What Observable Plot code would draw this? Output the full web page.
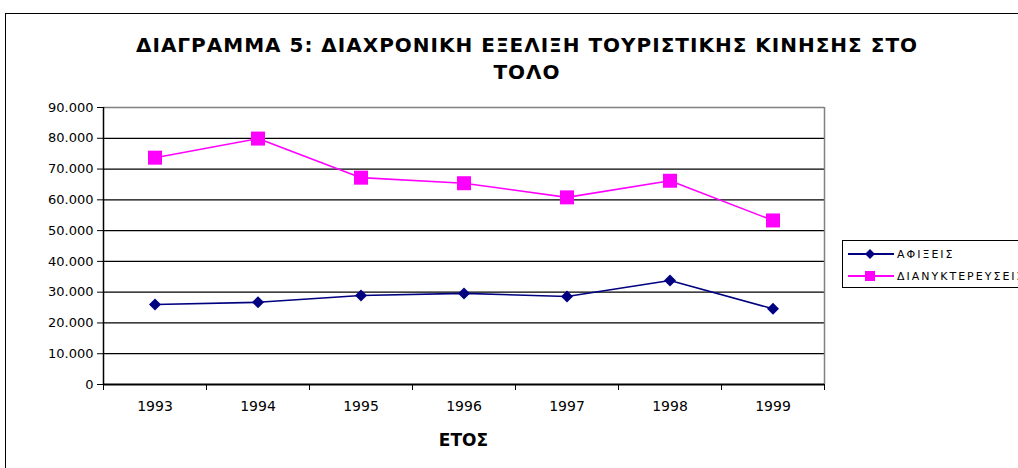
<!DOCTYPE html>
<html>
<head>
<meta charset="utf-8">
<script src="https://cdn.jsdelivr.net/npm/d3@7"></script>
<script src="https://cdn.jsdelivr.net/npm/@observablehq/plot@0.6"></script>
<style>
  html, body { margin: 0; padding: 0; background: #fff; overflow: hidden; }
  #wrap { position: relative; width: 1018px; height: 468px; overflow: hidden; font-family: "DejaVu Sans", Verdana, sans-serif; }
  #frame { position: absolute; left: 5px; top: 13px; width: 1100px; height: 600px; border: 1.5px solid #000; box-sizing: border-box; }
  #title { position: absolute; left: 0; top: 32px; width: 1054px; text-align: center; font-weight: bold; font-size: 20px; letter-spacing: 1px; line-height: 27px; color: #000; }
  #chart { position: absolute; left: 0; top: 0; }
  #xtitle { position: absolute; left: 103px; width: 721px; top: 430px; text-align: center; font-weight: bold; font-size: 17px; }
  #legend { position: absolute; left: 842px; top: 240px; width: 300px; height: 48px; border: 1px solid #000; box-sizing: border-box; }
  .li { position: absolute; left: 5px; height: 16px; display: flex; align-items: center; font-size: 11px; letter-spacing: 2px; white-space: nowrap; }
  .li svg { margin-right: 3px; }
</style>
</head>
<body>
<div id="wrap">
  <div id="frame"></div>
  <div id="title"></div>
  <div id="chart"></div>
  <div id="xtitle"></div>
  <div id="legend"></div>
</div>
<script>
const titleLines = ["ΔΙΑΓΡΑΜΜΑ 5: ΔΙΑΧΡΟΝΙΚΗ ΕΞΕΛΙΞΗ ΤΟΥΡΙΣΤΙΚΗΣ ΚΙΝΗΣΗΣ ΣΤΟ", "ΤΟΛΟ"];
const xTitle = "ΕΤΟΣ";
const years = [1993, 1994, 1995, 1996, 1997, 1998, 1999];
const arrivals = [26000, 26700, 28900, 29600, 28600, 33800, 24600];
const overnights = [73700, 79900, 67200, 65400, 60800, 66200, 53300];
const seriesNames = ["ΑΦΙΞΕΙΣ", "ΔΙΑΝΥΚΤΕΡΕΥΣΕΙΣ"];
const seriesColors = ["#000080", "#FF00FF"];
const yTicks = [0, 10000, 20000, 30000, 40000, 50000, 60000, 70000, 80000, 90000];

document.getElementById("title").innerHTML = titleLines.join("<br>");
document.getElementById("xtitle").textContent = xTitle;

const fmt = d3.formatLocale({decimal: ",", thousands: ".", grouping: [3], currency: ["", ""]}).format(",d");

const rows = [];
years.forEach((y, i) => {
  rows.push({year: y, value: arrivals[i], series: seriesNames[0]});
  rows.push({year: y, value: overnights[i], series: seriesNames[1]});
});
const a = rows.filter(d => d.series === seriesNames[0]);
const o = rows.filter(d => d.series === seriesNames[1]);
const xMin = years[0] - 0.5, xMax = years[years.length - 1] + 0.5;
const bounds = [...years.map(y => y - 0.5), xMax];

const chart = Plot.plot({
  width: 1018,
  height: 468,
  marginLeft: 103,
  marginRight: 194,
  marginTop: 107,
  marginBottom: 84,
  style: {fontFamily: "'DejaVu Sans', Verdana, sans-serif", fontSize: "13px", color: "#000", background: "transparent"},
  x: {type: "linear", domain: [xMin, xMax]},
  y: {domain: [0, yTicks[yTicks.length - 1]]},
  marks: [
    Plot.ruleY(yTicks.filter(t => t > 0 && t < yTicks[yTicks.length - 1]), {stroke: "#000", strokeWidth: 1.2}),
    Plot.ruleY([yTicks[yTicks.length - 1]], {stroke: "#808080", strokeWidth: 1.5}),
    Plot.ruleX([xMax], {stroke: "#808080", strokeWidth: 1.5}),
    Plot.axisY({ticks: yTicks, tickFormat: fmt, tickSize: 6, tickPadding: 4, label: null, stroke: "#000", fontSize: 13}),
    Plot.axisX({ticks: bounds, tickSize: 6, tickFormat: () => "", label: null, stroke: "#000"}),
    Plot.axisX({ticks: years, tickSize: 0, tickPadding: 17, tickFormat: d => String(d), label: null, fontSize: 14}),
    Plot.ruleX([xMin], {stroke: "#000", strokeWidth: 1.5}),
    Plot.ruleY([0], {stroke: "#000", strokeWidth: 2}),
    Plot.line(o, {x: "year", y: "value", stroke: seriesColors[1], strokeWidth: 1.6}),
    Plot.dot(o, {x: "year", y: "value", symbol: "square", fill: seriesColors[1], r: 7.9}),
    Plot.line(a, {x: "year", y: "value", stroke: seriesColors[0], strokeWidth: 1.6}),
    Plot.dot(a, {x: "year", y: "value", symbol: "diamond2", fill: seriesColors[0], r: 5.4})
  ]
});
document.getElementById("chart").appendChild(chart);

const legend = document.getElementById("legend");
seriesNames.forEach((name, i) => {
  const div = document.createElement("div");
  div.className = "li";
  div.style.top = (i === 0 ? 5 : 27) + "px";
  const sym = i === 0
    ? `<path d="M22,3 L27,8 L22,13 L17,8 Z" fill="${seriesColors[i]}"/>`
    : `<rect x="17" y="3" width="10" height="10" fill="${seriesColors[i]}"/>`;
  div.innerHTML = `<svg width="46" height="16"><line x1="0" y1="8" x2="46" y2="8" stroke="${seriesColors[i]}" stroke-width="2"/>${sym}</svg><span></span>`;
  div.querySelector("span").textContent = name;
  legend.appendChild(div);
});
</script>
</body>
</html>
